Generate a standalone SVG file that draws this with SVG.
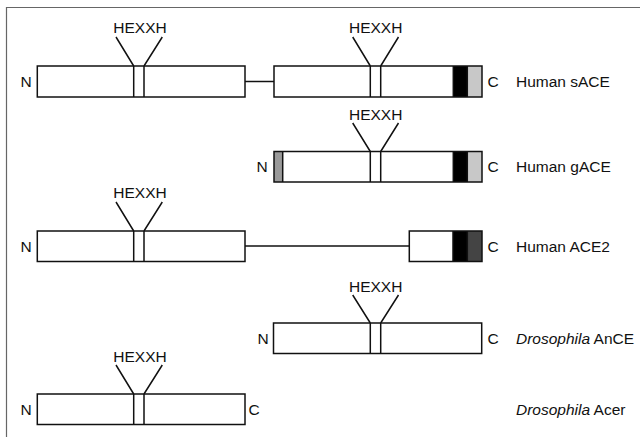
<svg xmlns="http://www.w3.org/2000/svg" width="640" height="437" viewBox="0 0 640 437">
<style>
  text { font-family: "Liberation Sans", Arial, Helvetica, sans-serif; font-size: 15.5px; fill: #111; }
  .mid { text-anchor: middle; }
  .it { font-style: italic; }
  .box { fill: none; stroke: #111; stroke-width: 1.5; }
  .bg { fill: #fff; }
  .ln { stroke: #111; stroke-width: 1.5; fill: none; }
  .frame { stroke: #666; stroke-width: 1.2; fill: none; }
  .blk { fill: #000; }
  .lgr { fill: #c8c8c8; }
  .mgr { fill: #9a9a9a; }
  .dgr { fill: #444; }
</style>
<rect x="0" y="0" width="640" height="437" fill="#fff"/>
<path class="frame" d="M6.5,437 V7.5 H640"/>

<g id="connectors">
  <line class="ln" x1="245" y1="81.5" x2="274" y2="81.5"/>
  <line class="ln" x1="245" y1="246" x2="409.3" y2="246"/>
</g>

<!-- Human sACE -->
<g id="sace-n">
  <rect class="bg" x="37.3" y="66" width="207.7" height="31"/>
  <path class="ln" d="M133.7,66 V97 M144,66 V97 M116,37 L133.7,66 M162.3,37 L144,66"/>
  <rect class="box" x="37.3" y="66" width="207.7" height="31"/>
  <text class="mid" x="140" y="33">HEXXH</text>
  <text x="20.5" y="87">N</text>
</g>
<g id="sace-c">
  <rect class="bg" x="274" y="66" width="208" height="31"/>
  <rect class="blk" x="453.3" y="66" width="14" height="31"/>
  <rect class="lgr" x="467.3" y="66" width="14.7" height="31"/>
  <path class="ln" d="M370.3,66 V97 M380.7,66 V97 M352.7,37 L370.3,66 M398.5,37 L380.7,66 M453.3,66 V97 M467.3,66 V97"/>
  <rect class="box" x="274" y="66" width="208" height="31"/>
  <text class="mid" x="375.7" y="33">HEXXH</text>
  <text x="487.5" y="87">C</text>
  <text x="516" y="87">Human sACE</text>
</g>

<!-- Human gACE -->
<g id="gace">
  <rect class="bg" x="274" y="151.5" width="208" height="30.5"/>
  <rect class="mgr" x="274" y="151.5" width="8.7" height="30.5"/>
  <rect class="blk" x="453.3" y="151.5" width="14" height="30.5"/>
  <rect class="lgr" x="467.3" y="151.5" width="14.7" height="30.5"/>
  <path class="ln" d="M282.7,151.5 V182 M370.3,151.5 V182 M380.7,151.5 V182 M352.7,123 L370.3,151.5 M398.5,123 L380.7,151.5 M453.3,151.5 V182 M467.3,151.5 V182"/>
  <rect class="box" x="274" y="151.5" width="208" height="30.5"/>
  <text class="mid" x="375.7" y="119.5">HEXXH</text>
  <text x="256.5" y="172.3">N</text>
  <text x="487.5" y="172.3">C</text>
  <text x="516" y="172.3">Human gACE</text>
</g>

<!-- Human ACE2 -->
<g id="ace2-n">
  <rect class="bg" x="37.3" y="231" width="207.7" height="30.5"/>
  <path class="ln" d="M133.7,231 V261.5 M144,231 V261.5 M116,202 L133.7,231 M162.3,202 L144,231"/>
  <rect class="box" x="37.3" y="231" width="207.7" height="30.5"/>
  <text class="mid" x="140" y="198.3">HEXXH</text>
  <text x="20.5" y="251.7">N</text>
</g>
<g id="ace2-c">
  <rect class="bg" x="409.3" y="231" width="72.7" height="30.5"/>
  <rect class="blk" x="453" y="231" width="14.3" height="30.5"/>
  <rect class="dgr" x="467.3" y="231" width="14.7" height="30.5"/>
  <path class="ln" d="M453,231 V261.5 M467.3,231 V261.5"/>
  <rect class="box" x="409.3" y="231" width="72.7" height="30.5"/>
  <text x="487.5" y="251.7">C</text>
  <text x="516" y="251.7">Human ACE2</text>
</g>

<!-- Drosophila AnCE -->
<g id="ance">
  <rect class="bg" x="273.5" y="323" width="208.2" height="30.5"/>
  <path class="ln" d="M370.3,323 V353.5 M380.7,323 V353.5 M352.7,295 L370.3,323 M398.5,295 L380.7,323"/>
  <rect class="box" x="273.5" y="323" width="208.2" height="30.5"/>
  <text class="mid" x="375.7" y="291.5">HEXXH</text>
  <text x="257.5" y="343.5">N</text>
  <text x="487.5" y="343.5">C</text>
  <text x="516" y="343.5"><tspan class="it">Drosophila</tspan> AnCE</text>
</g>

<!-- Drosophila Acer -->
<g id="acer">
  <rect class="bg" x="37.3" y="394" width="207.7" height="30.5"/>
  <path class="ln" d="M133.7,394 V424.5 M144,394 V424.5 M116,365 L133.7,394 M162.3,365 L144,394"/>
  <rect class="box" x="37.3" y="394" width="207.7" height="30.5"/>
  <text class="mid" x="140" y="362">HEXXH</text>
  <text x="20.5" y="414.7">N</text>
  <text x="248.5" y="414.7">C</text>
  <text x="516" y="414.7"><tspan class="it">Drosophila</tspan> Acer</text>
</g>
</svg>
